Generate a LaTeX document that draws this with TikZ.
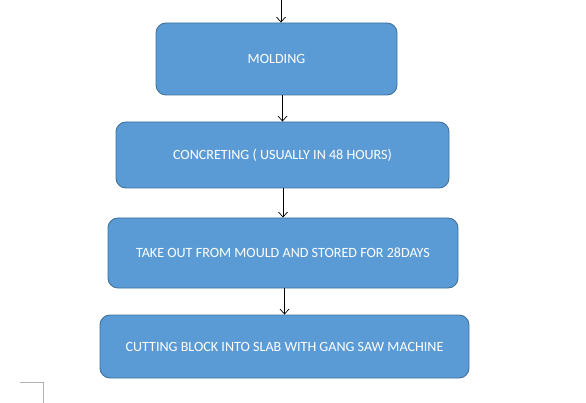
\documentclass[tikz,border=0pt]{standalone}
\usepackage{fontspec}
\setmainfont{Carlito}
\usetikzlibrary{arrows.meta}
\definecolor{boxfill}{HTML}{5B9BD5}
\definecolor{boxline}{HTML}{41719C}
\begin{document}
\begin{tikzpicture}[x=1pt,y=-1pt,
  stepbox/.style={draw=boxline,line width=0.9pt,fill=boxfill,rounded corners=10pt,
    inner sep=0pt,text=white,font=\fontsize{14.1}{16}\selectfont},
  flow/.style={-{Straight Barb[length=5pt,width=9pt]},line width=0.7pt,black}]
\useasboundingbox[fill=white] (0,0) rectangle (586,403);
\node[stepbox,minimum width=241pt,minimum height=72pt] (m1) at (276.5,59) {MOLDING};
\node[stepbox,minimum width=333pt,minimum height=66pt] (m2) at (282.5,155) {CONCRETING ( USUALLY IN 48 HOURS)};
\node[stepbox,minimum width=350pt,minimum height=70pt] (m3) at (283,253) {TAKE OUT FROM MOULD AND STORED FOR 28DAYS};
\node[stepbox,minimum width=369pt,minimum height=63pt] (m4) at (284.5,346.5) {CUTTING BLOCK INTO SLAB WITH GANG SAW MACHINE};
\coordinate (top) at (281,0);
\draw[flow] (top) -- (top |- m1.north);
\draw[flow] (m1.south -| m2.north) -- (m2.north);
\draw[flow] (m2.south -| m3.north) -- (m3.north);
\draw[flow] (m3.south -| m4.north) -- (m4.north);
\coordinate (c1) at (20,382);
\coordinate (c2) at (43,382);
\coordinate (c3) at (43,403);
\draw[gray!60,line width=0.6pt] (c1) -- (c2) -- (c3);
\end{tikzpicture}
\end{document}
